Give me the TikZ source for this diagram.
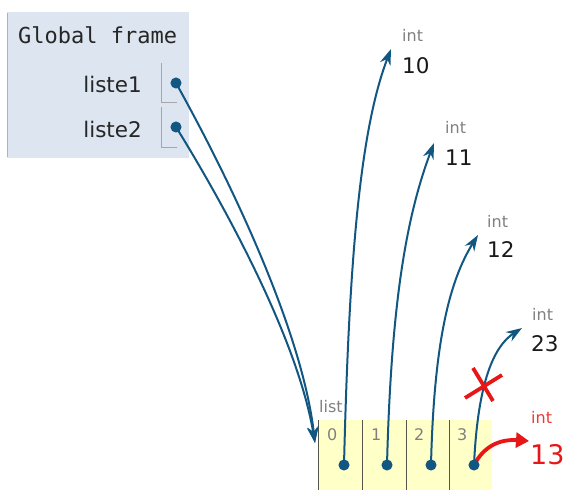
\documentclass[tikz,border=0pt]{standalone}
\usepackage{fontspec}
\setmainfont{DejaVu Sans}
\newfontfamily\framefont{DejaVu Sans Mono}
\usetikzlibrary{arrows.meta}
\definecolor{ptr}{RGB}{18,86,130}
\definecolor{framebg}{RGB}{221,229,240}
\definecolor{listbg}{RGB}{255,255,200}
\definecolor{lbl}{RGB}{128,128,128}
\definecolor{redc}{RGB}{232,22,22}
\definecolor{cellline}{RGB}{85,85,75}
\begin{document}
\begin{tikzpicture}[x=1pt,y=-1pt,
  ptrline/.style={draw=ptr, line width=2pt, -{Stealth[length=16pt,width=11pt]}},
  dotc/.style={circle, fill=ptr, draw=ptr, line width=1pt, inner sep=0pt, minimum size=10pt},
  typ/.style={anchor=base west, inner sep=0pt, text=lbl, font=\fontsize{16}{16}\selectfont},
  val/.style={anchor=base west, inner sep=0pt, text=black!90, font=\fontsize{21.5}{21.5}\selectfont},
  varname/.style={anchor=base east, inner sep=0pt, text=black!85, font=\fontsize{21.5}{21.5}\selectfont},
  idx/.style={anchor=base west, inner sep=0pt, text=lbl, font=\fontsize{16}{16}\selectfont},
  cellbar/.style={draw=black!35, line width=0.8pt},
  redmark/.style={draw=redc, line width=3.8pt},
]
\useasboundingbox (0,0) rectangle (568,490);

% Global frame
\fill[framebg] (7,12) rectangle (189,158);
\draw[black!30, line width=0.8pt] (7,13) -- (7,157);
\node[anchor=base west, inner sep=0pt, text=black!85, font=\framefont\fontsize{22}{22}\selectfont] (gf) at (18,43) {Global frame};
\node[varname] (n1) at (142,92) {liste1};
\node[varname] (n2) at (142,137) {liste2};
\draw[cellbar] (161,63) -- (161,102) -- (177,102);
\draw[cellbar] (161,107) -- (161,147) -- (177,147);

% list object
\fill[listbg] (318,420) rectangle (492,490);
\foreach \x in {318,362,406,449} \draw[cellline, line width=1pt] (\x,420) -- (\x,490);
\node[idx] (lst) at (319,412) {list};
\node[idx] (i0) at (327,440) {0};
\node[idx] (i1) at (371,440) {1};
\node[idx] (i2) at (414,440) {2};
\node[idx] (i3) at (457,440) {3};
\coordinate (lin) at (315,443);

% int objects
\node[typ] (ty10) at (402,41) {int};
\node[val] (v10) at (402,73) {10};
\node[typ] (ty11) at (445,133) {int};
\node[val] (v11) at (445,165) {11};
\node[typ] (ty12) at (487,227) {int};
\node[val] (v12) at (487,257) {12};
\node[typ] (ty23) at (532,320) {int};
\node[val] (v23) at (531,351) {23};
\node[typ, text=redc!85] (ty13) at (531,423) {int};
\node[anchor=base west, inner sep=0pt, text=redc, font=\fontsize{27}{27}\selectfont] (v13) at (530,464) {13};
\coordinate (t10) at (391,49);
\coordinate (t11) at (434,143);
\coordinate (t12) at (478,235);
\coordinate (t23) at (522,328);
\coordinate (t13) at (529,441);

% pointer origins
\coordinate (g1) at (176,83);
\coordinate (g2) at (176,127);
\coordinate (d0) at (344,465);
\coordinate (d1) at (387,465);
\coordinate (d2) at (431,465);
\coordinate (d3) at (474,465);

% pointers
\draw[ptrline] (g1) .. controls (230,180) and (302,330) .. (lin);
\draw[ptrline] (g2) .. controls (212,185) and (296,330) .. (lin);
\draw[ptrline] (d0) .. controls (349,260) and (360,130) .. (t10);
\draw[ptrline] (d1) .. controls (391,310) and (405,220) .. (t11);
\draw[ptrline] (d2) .. controls (434,340) and (450,280) .. (t12);
\draw[ptrline] (d3) .. controls (477,400) and (488,350) .. (t23);

% red cross and new pointer
\draw[redmark] (473,368) -- (493,401);
\draw[redmark] (465,398) -- (502,375);
\draw[redmark, -{Triangle[length=13pt,width=15pt]}] (d3) .. controls (484,446) and (500,439) .. (t13);

% dots
\foreach \p in {g1,g2,d0,d1,d2,d3} \node[dotc] at (\p) {};
\end{tikzpicture}
\end{document}
